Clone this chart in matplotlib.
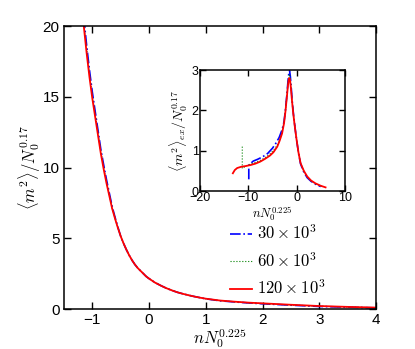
import numpy as np
import matplotlib
matplotlib.use("Agg")
import matplotlib.pyplot as plt

plt.rcParams['font.family'] = ['Liberation Sans', 'DejaVu Sans']
plt.rcParams['mathtext.fontset'] = 'cm'

# main panel: <m^2>/N0^0.17 vs n N0^0.225
x_main = [-1.15, -1.1, -1.05, -1.0, -0.95, -0.9, -0.85, -0.8, -0.75, -0.7,
          -0.65, -0.6, -0.55, -0.5, -0.45, -0.4, -0.35, -0.3, -0.25, -0.2,
          -0.15, -0.1, -0.05, 0.0, 0.1, 0.2, 0.3, 0.4, 0.5, 0.6,
          0.7, 0.8, 0.9, 1.0, 1.25, 1.5, 1.75, 2.0, 2.5, 3.0, 3.5, 4.0]
y_120 = [20, 18.1, 16.4, 14.9, 13.6, 12.3, 11.0, 9.9, 8.9, 8.0,
         7.1, 6.4, 5.75, 5.15, 4.65, 4.2, 3.8, 3.45, 3.15, 2.9,
         2.7, 2.5, 2.3, 2.15, 1.88, 1.67, 1.48, 1.32, 1.18, 1.07,
         0.97, 0.88, 0.8, 0.73, 0.6, 0.52, 0.45, 0.4, 0.3, 0.21, 0.15, 0.1]
y_30 = [20.6, 18.65, 16.9, 15.35, 14.0, 12.65, 11.3, 10.2, 9.15, 8.2,
        7.25, 6.5, 5.8, 5.15, 4.65, 4.2, 3.8, 3.45, 3.15, 2.9,
        2.7, 2.5, 2.3, 2.15, 1.88, 1.67, 1.48, 1.32, 1.18, 1.07,
        0.97, 0.88, 0.8, 0.72, 0.58, 0.5, 0.43, 0.37, 0.27, 0.18, 0.13, 0.08]
y_60 = [20.3, 18.4, 16.65, 15.1, 13.8, 12.5, 11.15, 10.05, 9.0, 8.1,
        7.15, 6.45, 5.78, 5.15, 4.65, 4.2, 3.8, 3.45, 3.15, 2.9,
        2.7, 2.5, 2.3, 2.15, 1.88, 1.67, 1.48, 1.32, 1.18, 1.07,
        0.97, 0.88, 0.8, 0.72, 0.59, 0.51, 0.44, 0.38, 0.28, 0.2, 0.14, 0.09]

# inset: <m^2>_ex/N0^0.17
xi_120 = [-13.2, -12.8, -12.3, -11.5, -10.5, -9.5, -8.5, -7.5, -6.5, -5.5,
          -4.8, -4.0, -3.5, -3.0, -2.6, -2.3, -2.0, -1.8, -1.65, -1.5,
          -1.35, -1.2, -1.0, -0.7, -0.35, 0.0, 0.4, 0.83, 1.5, 2.2,
          3.0, 3.9, 5.0, 6.0]
yi_120 = [0.44, 0.52, 0.57, 0.6, 0.62, 0.645, 0.68, 0.73, 0.8, 0.88,
          0.96, 1.1, 1.25, 1.43, 1.68, 1.98, 2.35, 2.6, 2.75, 2.8,
          2.74, 2.58, 2.3, 1.93, 1.58, 1.27, 0.95, 0.69, 0.5, 0.36,
          0.26, 0.19, 0.13, 0.09]
xi_30 = [-9.9, -9.9, -9.0, -8.0, -7.0, -6.0, -5.0, -4.2, -3.6, -3.0,
         -2.6, -2.3, -2.0, -1.8, -1.6, -1.45, -1.3, -1.1, -0.9, -0.6,
         -0.3, 0.0, 0.4, 0.83, 1.5, 2.2, 3.0, 3.9, 5.0]
yi_30 = [0.29, 0.64, 0.74, 0.79, 0.85, 0.93, 1.06, 1.2, 1.33, 1.52,
         1.72, 2.02, 2.4, 2.7, 2.93, 2.98, 2.85, 2.55, 2.22, 1.85,
         1.55, 1.27, 0.94, 0.67, 0.47, 0.33, 0.24, 0.17, 0.11]
xi_60 = [-11.25, -11.25, -10.5, -9.5, -8.5, -7.5, -6.5, -5.5, -4.5, -3.7,
         -3.0, -2.6, -2.3, -2.0, -1.8, -1.6, -1.45, -1.3, -1.1, -0.9,
         -0.6, -0.3, 0.0, 0.4, 0.83, 1.5, 2.2, 3.0, 3.9, 5.5]
yi_60 = [1.1, 0.56, 0.62, 0.67, 0.71, 0.76, 0.83, 0.92, 1.05, 1.2,
         1.47, 1.7, 2.0, 2.38, 2.65, 2.85, 2.9, 2.78, 2.5, 2.2,
         1.85, 1.55, 1.27, 0.95, 0.68, 0.49, 0.35, 0.25, 0.18, 0.1]

labels = [r'$30\times10^3$', r'$60\times10^3$', r'$120\times10^3$']

fig = plt.figure(figsize=(4.15, 3.49), dpi=100)
ax = fig.add_axes([0.154, 0.1146, 0.752, 0.8109])

ax.plot(x_main, y_30, '-.', color='blue', lw=1.2, label=labels[0])
ax.plot(x_main, y_60, ':', color='green', lw=0.8, label=labels[1])
ax.plot(x_main, y_120, '-', color='red', lw=1.3, label=labels[2])
ax.set_xlim(-1.5, 4)
ax.set_ylim(0, 20)
ax.set_xticks([-1, 0, 1, 2, 3, 4])
ax.set_yticks([0, 5, 10, 15, 20])
ax.tick_params(direction='in', length=5, width=1, top=True, right=True, labelsize=11, pad=3)
for s in ax.spines.values():
    s.set_linewidth(1.1)
ax.set_xlabel(r'$nN_0^{0.225}$', fontsize=12, labelpad=-1)
ax.set_ylabel(r'$\langle m^2\rangle/N_0^{0.17}$', fontsize=12, labelpad=0)
ax.legend(loc='upper left', bbox_to_anchor=(0.51, 0.325), frameon=False, fontsize=12,
          handlelength=1.35, handletextpad=0.3, labelspacing=0.52, borderaxespad=0)

axi = fig.add_axes([0.482, 0.4527, 0.349, 0.3467])
axi.plot(xi_30, yi_30, '-.', color='blue', lw=1.2)
axi.plot(xi_60, yi_60, ':', color='green', lw=0.8)
axi.plot(xi_120, yi_120, '-', color='red', lw=1.3)
axi.set_xlim(-20, 10)
axi.set_ylim(0, 3)
axi.set_xticks([-20, -10, 0, 10])
axi.set_yticks([0, 1, 2, 3])
axi.tick_params(direction='in', length=4, width=1, top=True, right=True, labelsize=9, pad=1)
for s in axi.spines.values():
    s.set_linewidth(1.1)
axi.set_xlabel(r'$nN_0^{0.225}$', fontsize=9, labelpad=0)
axi.set_ylabel(r'$\langle m^2\rangle_{ex}/N_0^{0.17}$', fontsize=10, labelpad=1)

fig.savefig('out.png', dpi=100)
